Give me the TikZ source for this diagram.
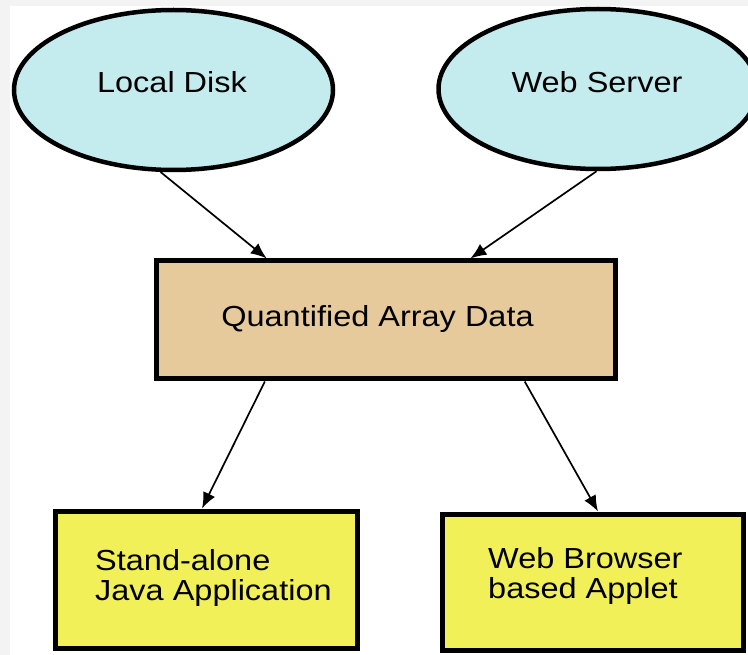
\documentclass[tikz,border=0pt]{standalone}
\usepackage{fontspec}
\setmainfont{Liberation Sans}[FakeStretch=1.12]
\usetikzlibrary{shapes.geometric,arrows.meta,calc}
\definecolor{diskfill}{RGB}{196,236,238}
\definecolor{datafill}{RGB}{230,202,156}
\definecolor{appfill}{RGB}{242,240,88}
\definecolor{edgegray}{RGB}{243,243,243}
\begin{document}
\begin{tikzpicture}[x=1pt,y=-1pt,
  source/.style={ellipse, draw=black, line width=4.5pt, fill=diskfill,
    minimum width=319pt, minimum height=160pt, inner sep=0pt},
  databox/.style={rectangle, draw=black, line width=5pt, fill=datafill,
    minimum width=459pt, minimum height=118pt, inner sep=0pt},
  appbox/.style={rectangle, draw=black, line width=5pt, fill=appfill,
    minimum width=301pt, minimum height=136pt, inner sep=0pt},
  txt/.style={inner sep=0pt, font=\fontsize{29}{30}\selectfont},
  flow/.style={line width=1.7pt, -{Latex[length=16pt,width=13pt]}}
]
\path[use as bounding box] (0,0) rectangle (748,655);
\clip (0,0) rectangle (748,655);

% pale frame strips along the top and left edges
\fill[edgegray] (0,0) rectangle (748,6);
\fill[edgegray] (0,0) rectangle (10,655);

% data sources
\node[source] (ld) at (173.5,90) {};
\node[source] (ws) at (598,89) {};
\node[txt, anchor=base] (ldt) at (172,93) {Local Disk};
\node[txt, anchor=base] (wst) at (597,93) {Web Server};

% central data block
\node[databox] (qd) at (385.5,320) {};
\node[txt, anchor=base] (qdt) at (377.5,327) {Quantified Array Data};

% client applications
\node[appbox, minimum width=302pt, minimum height=137pt] (bl) at (206,579.5) {};
\node[appbox] (br) at (592.5,582) {};
\node[txt, anchor=west, align=left] (blt) at (95,578.5) {Stand-alone\\Java Application};
\node[txt, anchor=west, align=left] (brt) at (488,576) {Web Browser\\based Applet};

% connectors
\draw[flow] (ld.261) -- ($(qd.north west)!0.244!(qd.north east)$);
\draw[flow] (ws.269) -- ($(qd.north west)!0.683!(qd.north east)$);
\draw[flow] ($(qd.south west)!0.24!(qd.south east)$) -- ($(bl.north west)!0.487!(bl.north east)$);
\draw[flow] ($(qd.south west)!0.80!(qd.south east)$) -- ($(br.north west)!0.518!(br.north east)$);
\end{tikzpicture}
\end{document}
